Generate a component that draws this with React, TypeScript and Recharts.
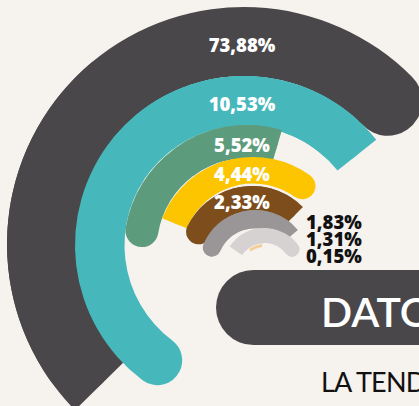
import { PieChart, Pie } from 'recharts';

// shares, outer ring first
const names = ['a', 'b', 'c', 'd', 'e', 'f', 'g', 'h'];
const values = [73.88, 10.53, 5.52, 4.44, 2.33, 1.83, 1.31, 0.15];
const colors = ['#4a474a', '#46b8bc', '#5c9c7c', '#fcc500', '#7d4d1c', '#9a9596', '#d6d2d1', '#f3cf97'];

// ring layout (the rings are not quite concentric)
const ringCx = [244, 244, 247, 253, 252, 255, 264.5, 264.5];
const ringCy = [244, 245, 248, 255, 258, 266, 270, 270];
const ringInner = [168, 119.5, 90, 71.5, 47, 37.7, 27, 23];
const ringOuter = [237, 169, 123, 98, 72, 56, 42, 26];
const ringStart = [224.5, 243, 179.5, 158, 166, 168, 146, 127];
const ringEnd = [35, 38.5, 73.5, 45.5, 45, 40, 24.5, 95];
const flatSide = ['start', 'end', 'end', 'start', 'end', 'end', 'start', 'none'];

const FONT = '"Open Sans", Lato, sans-serif';
const BG = '#f6f2ee';

const fmt = (v: number) => v.toFixed(2).replace('.', ',') + '%';

const renderLabel = (i: number) => () => {
  if (i < 5) {
    const y = ringCy[i] - (ringInner[i] + ringOuter[i]) / 2 + 3.5;
    return (
      <text x={242} y={y + 7} textAnchor="middle" fill="#fff" fontSize={18.5} fontWeight={800} fontFamily={FONT}>
        {fmt(values[i])}
      </text>
    );
  }
  return (
    <text x={306} y={222 + 17 * (i - 5) + 7} textAnchor="start" fill="#111" fontSize={18.5} fontWeight={800} fontFamily={FONT}>
      {fmt(values[i])}
    </text>
  );
};

export default function App() {
  return (
    <div style={{ position: 'fixed', left: 0, top: 0, width: 419, height: 406, overflow: 'hidden', background: BG }}>
      <PieChart width={419} height={406} margin={{ top: 0, right: 0, bottom: 0, left: 0 }}>
        {values.map((v, i) => {
          const data = [{ name: names[i], value: v }];
          const mid = (ringStart[i] + ringEnd[i]) / 2;
          const common = {
            data,
            dataKey: 'value',
            cx: ringCx[i],
            cy: ringCy[i],
            innerRadius: ringInner[i],
            outerRadius: ringOuter[i],
            fill: colors[i],
            stroke: 'none',
            isAnimationActive: false,
          };
          const out = [];
          // square patch so one end of the ring stays flat
          if (flatSide[i] !== 'none') {
            out.push(
              <Pie
                key={`f${i}`}
                {...common}
                startAngle={flatSide[i] === 'start' ? ringStart[i] : mid}
                endAngle={flatSide[i] === 'start' ? mid : ringEnd[i]}
              />
            );
          }
          out.push(
            <Pie
              key={`r${i}`}
              {...common}
              startAngle={ringStart[i]}
              endAngle={ringEnd[i]}
              cornerRadius={(ringOuter[i] - ringInner[i]) / 2}
              label={renderLabel(i)}
              labelLine={false}
            />
          );
          return out;
        })}
      </PieChart>
      <svg width={419} height={406} style={{ position: 'absolute', left: 0, top: 0 }}>
        <rect x={216} y={270} width={300} height={75} rx={37.5} fill="#4a474a" />
        <text x={321} y={327} fill="#fff" fontSize={41} fontWeight={600} fontFamily='Lato, sans-serif'>DATOS</text>
        <text x={321} y={392} fill="#111" fontSize={27} fontWeight={400} letterSpacing={-0.8} fontFamily='Lato, sans-serif'>LA TENDENCIA</text>
      </svg>
    </div>
  );
}
